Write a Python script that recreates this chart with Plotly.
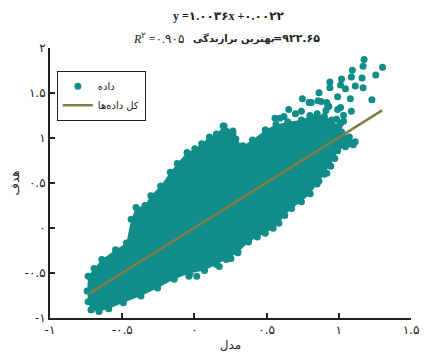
import plotly.graph_objects as go

# Fit statistics shown above the plot
slope = 1.0036
intercept = 0.0022
r_squared_text = "۰.۹۰۵"
best_fit_text = "۹۲۲.۶۵"

# Outline of the dense point cloud (model, target), traced counter-clockwise
cloud_x = [-0.715, -0.661, -0.593, -0.492, -0.370, -0.255, -0.140, -0.031, 0.070, 0.152,
           0.233, 0.301, 0.375, 0.436, 0.491, 0.545, 0.585, 0.626, 0.673, 0.741,
           0.802, 0.850, 0.897, 0.938, 0.972, 0.992, 1.046, 1.100, 1.114,
           1.073, 1.019, 1.000, 0.950, 0.900, 0.850, 0.800, 0.741, 0.646,
           0.565, 0.491, 0.402, 0.335, 0.287, 0.267, 0.206, 0.152, 0.104, 0.050,
           0.003, -0.051, -0.119, -0.167, -0.234, -0.302, -0.343, -0.404, -0.438, -0.471,
           -0.546, -0.641, -0.695, -0.736, -0.743, -0.736]
cloud_y = [-0.907, -0.929, -0.896, -0.831, -0.755, -0.667, -0.569, -0.504, -0.471, -0.406,
           -0.340, -0.275, -0.155, -0.100, -0.057, -0.002, 0.052, 0.140, 0.216, 0.293,
           0.380, 0.489, 0.598, 0.696, 0.772, 0.859, 0.903, 0.925, 0.957,
           1.012, 1.066, 1.130, 1.200, 1.240, 1.270, 1.250, 1.200, 1.180,
           1.150, 1.088, 0.979, 0.914, 0.990, 1.077, 1.132, 1.045, 1.012, 0.936,
           0.881, 0.838, 0.718, 0.620, 0.467, 0.358, 0.249, 0.227, 0.096, -0.166,
           -0.242, -0.351, -0.449, -0.537, -0.700, -0.820]

# Scattered points lying outside the dense cloud
sparse_x = [1.175, 1.168, 1.303, 1.256, 1.094, 1.019, 1.087, 0.938, 1.161, 1.114,
            1.168, 0.938, 1.012, 1.046, 0.863, 0.992, 1.080, 1.229, 0.748, 0.795,
            0.856, 0.917, 0.653, 1.087, 0.741, 1.012, 0.985, 0.491, 0.199, 0.206,
            0.558, 0.592, 1.033, 0.951, 0.911, 0.931, 0.944, 0.917, 0.863, 1.080,
            -0.038, 0.016, 0.172, 0.220, 0.253, 0.301, 0.104, 0.267, 0.274,
            0.877, 0.809, 0.924, 0.992, 1.033, 1.012, 0.700, 0.620]
sparse_y = [1.873, 1.797, 1.786, 1.699, 1.753, 1.655, 1.677, 1.622, 1.666, 1.579,
            1.557, 1.557, 1.590, 1.546, 1.503, 1.459, 1.437, 1.426, 1.437, 1.394,
            1.415, 1.394, 1.317, 1.296, 1.296, 1.339, 1.208, 1.088, 1.132, 1.066,
            1.219, 1.219, 1.186, 1.132, 1.306, 1.350, 0.685, 0.609, 0.522, 0.936,
            -0.537, -0.537, -0.427, -0.351, -0.340, -0.264, 0.968, 1.045, 0.957,
            1.405, 1.394, 1.361, 1.317, 1.252, 1.165, 1.270, 1.240]

# Extent of the fitted line
fit_x = [-0.73, 1.30]
fit_y = [slope * v + intercept for v in fit_x]

# Axis ticks
tick_vals_x = [-1, -0.5, 0, 0.5, 1, 1.5]
tick_text_x = ["-۱", "-۰.۵", "۰", "۰.۵", "۱", "۱.۵"]
tick_vals_y = [-1, -0.5, 0, 0.5, 1, 1.5, 2]
tick_text_y = ["-۱", "-۰.۵", "۰", "۰.۵", "۱", "۱.۵", "۲"]

teal = "#108c89"
olive = "#827d45"
ink = "#222222"
font_family = "DejaVu Sans"
serif_family = "Liberation Serif, DejaVu Sans"

fig = go.Figure()

fig.add_trace(go.Scatter(
    x=cloud_x + cloud_x[:1], y=cloud_y + cloud_y[:1],
    mode="markers", fill="toself", fillcolor=teal,
    marker=dict(color=teal, size=7), showlegend=False, hoverinfo="skip",
))
fig.add_trace(go.Scatter(
    x=sparse_x, y=sparse_y, mode="markers", name="داده",
    marker=dict(color=teal, size=7),
))
fig.add_trace(go.Scatter(
    x=fit_x, y=fit_y, mode="lines", name="کل داده‌ها",
    line=dict(color=olive, width=2.5),
))

axis_common = dict(
    showline=True, linecolor=ink, linewidth=2, mirror=False,
    ticks="inside", ticklen=5, tickwidth=1.5, tickcolor=ink,
    showgrid=False, zeroline=False,
    tickfont=dict(family=font_family, size=12, color=ink),
)

fig.update_layout(
    width=430, height=361,
    margin=dict(l=50, r=11, t=48, b=39),
    paper_bgcolor="white", plot_bgcolor="white",
    font=dict(family=font_family, color=ink),
    xaxis=dict(range=[-1, 1.5], tickmode="array", tickvals=tick_vals_x,
               ticktext=tick_text_x,
               title=dict(text="مدل", font=dict(size=12, color=ink), standoff=4),
               **axis_common),
    yaxis=dict(range=[-1, 2], tickmode="array", tickvals=tick_vals_y,
               ticktext=tick_text_y,
               title=dict(text="هدف", font=dict(size=12, color=ink), standoff=2),
               **axis_common),
    legend=dict(x=0.019, y=0.916, xanchor="left", yanchor="top",
                bgcolor="white", bordercolor=ink, borderwidth=1,
                font=dict(family=font_family, size=10, color=ink),
                itemwidth=30, tracegroupgap=0),
    showlegend=True,
)

# Regression equation above the plot
eq_text = "<b>y =۱.۰۰۳۶x +۰.۰۰۲۲</b>"
fig.add_annotation(text=eq_text, xref="paper", yref="paper", x=0.496, y=1.12,
                   xanchor="center", yanchor="middle", showarrow=False,
                   font=dict(family=serif_family, size=12, color=ink))

# Goodness-of-fit line, set as three pieces so each keeps its own reading order
line2_y = 1.036
fig.add_annotation(text="<i>R</i><sup>۲</sup> =" + r_squared_text,
                   xref="paper", yref="paper", x=0.301, y=line2_y,
                   xanchor="center", yanchor="middle", showarrow=False,
                   font=dict(family=serif_family, size=12, color=ink))
fig.add_annotation(text="<b>بهترین برازندگی</b>",
                   xref="paper", yref="paper", x=0.509, y=line2_y,
                   xanchor="center", yanchor="middle", showarrow=False,
                   font=dict(family=font_family, size=10, color=ink))
fig.add_annotation(text="<b>\u200e=" + best_fit_text + "</b>",
                   xref="paper", yref="paper", x=0.682, y=line2_y,
                   xanchor="center", yanchor="middle", showarrow=False,
                   font=dict(family=font_family, size=11, color=ink))

fig.write_html("out.html")
